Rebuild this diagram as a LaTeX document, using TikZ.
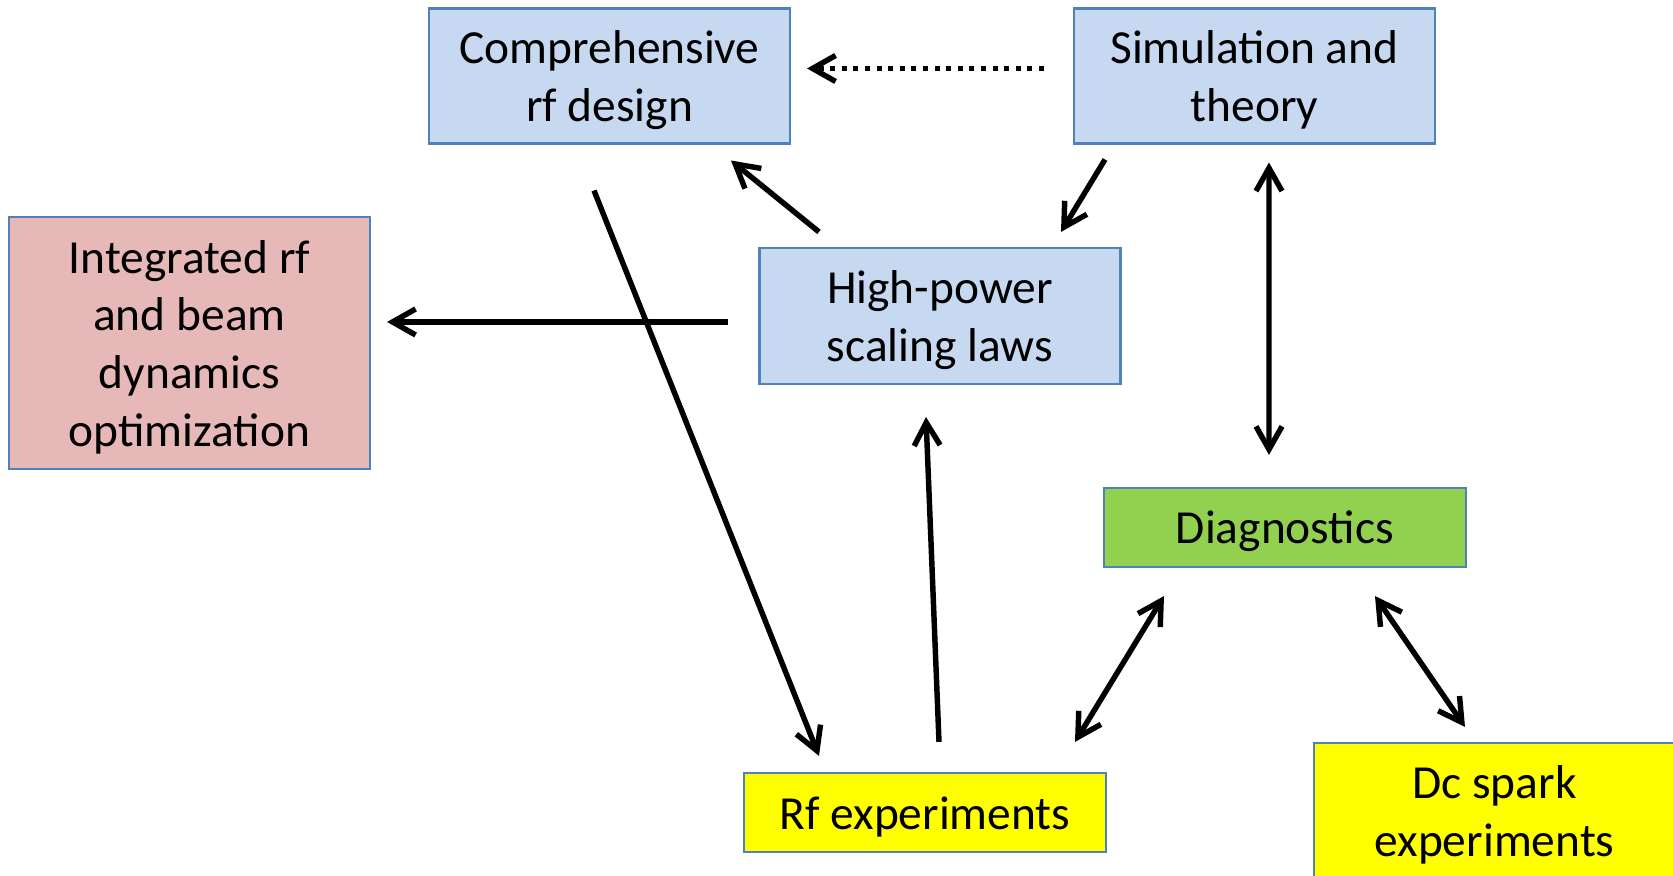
\documentclass[tikz,border=0pt]{standalone}
\usepackage{fontspec}
\setmainfont{Carlito}
\usetikzlibrary{arrows.meta}
\definecolor{edgeblue}{HTML}{4F81BD}
\definecolor{boxblue}{HTML}{C6D9F1}
\definecolor{boxpink}{HTML}{E6B9B8}
\definecolor{boxgreen}{HTML}{92D050}
\definecolor{boxyellow}{HTML}{FFFF00}
\newcommand\liftline{\rule{0pt}{11.7pt}}

\begin{document}
\begin{tikzpicture}[
	box/.style={draw=edgeblue, line width=0.6pt, align=center, inner sep=0pt,
		minimum width=3.61cm, minimum height=1.35cm, font=\fontsize{13.5}{16.4}\selectfont},
	tip/.tip={Straight Barb[length=2.3mm, width=2.6mm]},
	arr/.style={line width=1.55pt, -tip},
	darr/.style={line width=1.55pt, tip-tip},
	dotarr/.style={arr, dash pattern=on 1.4pt off 1.9pt}]
	\useasboundingbox (0, 0) rectangle (16.73, 8.76);
	\node[box, fill=boxblue] (comp) at (6.095, 8.00) {\liftline Comprehensive\\rf design};
	\node[box, fill=boxblue] (sim) at (12.545, 8.00) {\liftline Simulation and\\theory};
	\node[box, fill=boxblue, minimum height=1.36cm] (hp) at (9.40, 5.60) {\liftline High-power\\scaling laws};
	\node[box, fill=boxpink, minimum height=2.52cm] (integ) at (1.895, 5.33) {\liftline Integrated rf\\and beam\\dynamics\\optimization};
	\node[box, fill=boxgreen, minimum width=3.62cm, minimum height=0.79cm] (diag) at (12.85, 3.485) {\liftline Diagnostics};
	\node[box, fill=boxyellow, minimum width=3.62cm, minimum height=0.79cm] (rf) at (9.25, 0.635) {\liftline Rf experiments};
	\node[box, fill=boxyellow] (dc) at (14.945, 0.655) {\liftline Dc spark\\experiments};

	\draw[dotarr] ([shift={(-0.29, 0.075)}]sim.west) -- ([shift={(0.16, 0.075)}]comp.east);
	\draw[arr] ([shift={(-1.21, 0.15)}]hp.north) -- ([shift={(1.215, -0.16)}]comp.south);
	\draw[arr] ([shift={(-1.495, -0.15)}]sim.south) -- ([shift={(1.21, 0.15)}]hp.north);
	\draw[darr] ([shift={(0.145, -0.18)}]sim.south) -- ([shift={(-0.16, 0.32)}]diag.north);
	\draw[arr] ([shift={(-0.30, -0.06)}]hp.west) -- ([shift={(0.16, 0.21)}]integ.east);
	\draw[arr] ([shift={(-0.155, -0.46)}]comp.south) -- ([shift={(-1.06, 0.16)}]rf.north);
	\draw[arr] ([shift={(0.14, 0.30)}]rf.north) -- ([shift={(-0.14, -0.32)}]hp.south);
	\draw[darr] ([shift={(1.50, 0.30)}]rf.north) -- ([shift={(-1.21, -0.28)}]diag.south);
	\draw[darr] ([shift={(0.90, -0.28)}]diag.south) -- ([shift={(-0.295, 0.15)}]dc.north);
\end{tikzpicture}
\end{document}
